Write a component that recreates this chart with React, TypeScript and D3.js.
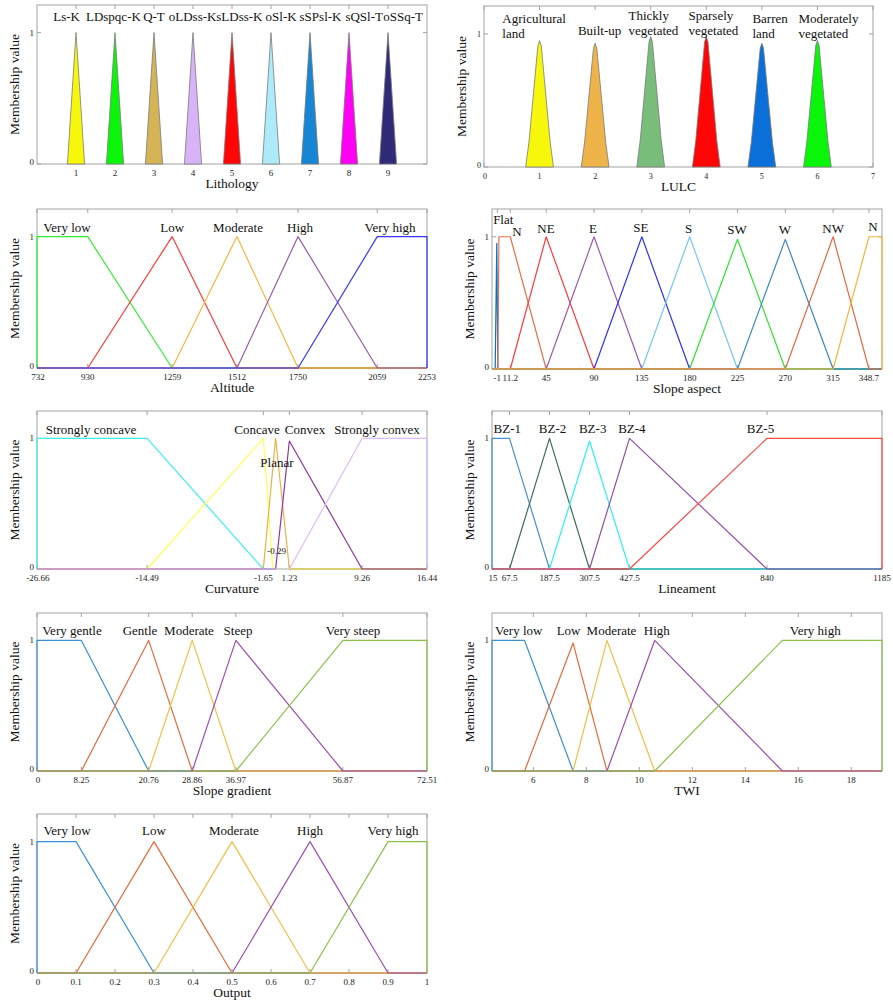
import React from 'react';
import * as d3 from 'd3';

const FONT = '"Liberation Serif", "Times New Roman", Times, serif';

// ---------- Lithology ----------
const lithoNames = ['Ls-K', 'LDspqc-K', 'Q-T', 'oLDss-K', 'sLDss-K', 'oSl-K', 'sSPsl-K', 'sQSl-T', 'oSSq-T'];
const lithoTicks = [1, 2, 3, 4, 5, 6, 7, 8, 9];
const lithoParams = [
  [0.78, 1, 1.22], [1.78, 2, 2.22], [2.78, 3, 3.22], [3.78, 4, 4.22], [4.78, 5, 5.22],
  [5.78, 6, 6.22], [6.78, 7, 7.22], [7.78, 8, 8.22], [8.78, 9, 9.22],
];
const lithoColors = ['#f7f70c', '#0af50a', '#d5b455', '#d9b3f7', '#ff0505', '#aeebfa', '#1585d4', '#ff00f5', '#302a78'];
const lithoLabelX = [0.76, 1.96, 3.0, 3.99, 5.19, 6.26, 7.27, 8.39, 9.39];

// ---------- LULC ----------
const lulcNames = [['Agricultural', 'land'], ['Built-up'], ['Thickly', 'vegetated'], ['Sparsely', 'vegetated'], ['Barren', 'land'], ['Moderately', 'vegetated']];
const lulcTicks = [0, 1, 2, 3, 4, 5, 6, 7];
const lulcCenters = [1, 2, 3, 4, 5, 6];
const lulcPeaks = [0.95, 0.93, 0.98, 0.98, 0.93, 0.95];
const lulcColors = ['#f7f70c', '#eeb44a', '#79bd7a', '#ff0505', '#0a6fd8', '#0af50a'];
const lulcLabelX = [0.33, 1.69, 2.6, 3.68, 4.83, 5.66];
const lulcLabelY = [1.12, 1.03, 1.142, 1.142, 1.12, 1.12];

// ---------- Altitude ----------
const altNames = ['Very low', 'Low', 'Moderate', 'High', 'Very high'];
const altTicks = [732, 930, 1259, 1512, 1750, 2059, 2253];
const altParams = [[732, 732, 930, 1259], [930, 1259, 1512], [1259, 1512, 1750], [1512, 1750, 2059], [1750, 2059, 2253, 2253]];
const altColors = ['#33ee33', '#ff3b3b', '#f5b940', '#9a5bb0', '#3636ff'];
const altLabelX = [849, 1259, 1516, 1758, 2109];

// ---------- Slope aspect ----------
const aspNames = ['Flat', 'N', 'NE', 'E', 'SE', 'S', 'SW', 'W', 'NW', 'N'];
const aspTicks = [-1, 11.2, 45, 90, 135, 180, 225, 270, 315, 348.7];
const aspParams = [
  [-3, -1.5, -0.5], [-0.5, 0.5, 11.2, 45], [11.2, 45, 90], [45, 90, 135], [90, 135, 180],
  [135, 180, 225], [180, 225, 270], [225, 270, 315], [270, 315, 348.7], [315, 348.7, 361, 361],
];
const aspPeaks = [0.95, 1, 1, 1, 1, 1, 0.98, 0.98, 1, 1];
const aspColors = ['#0a6fc0', '#e8704a', '#ff3b3b', '#9a5bb0', '#3030ff', '#75c8f0', '#30e030', '#3c86c9', '#e66a45', '#f7b53a'];
const aspLabelX = [4.6, 17.5, 44.8, 89, 134, 179, 224.5, 269.7, 315, 352.5];
const aspLabelY = [1.136, 1.045, 1.07, 1.065, 1.075, 1.07, 1.055, 1.06, 1.07, 1.08];

// ---------- Curvature ----------
const curvNames = ['Strongly concave', 'Concave', 'Planar', 'Convex', 'Strongly convex'];
const curvTicks = [-26.66, -14.49, -1.65, 1.23, 9.26, 16.44];
const curvParams = [[-26.66, -26.66, -14.49, -1.65], [-14.49, -1.65, -0.6], [-1.65, -0.29, 1.23], [-0.29, 1.23, 9.26], [1.23, 9.26, 16.44, 16.44]];
const curvPeaks = [1, 1, 1, 0.98, 1];
const curvColors = ['#44eeee', '#ffff55', '#efb04a', '#8b3a9b', '#dcbcff'];
const curvLabelX = [-20.69, -2.35, -0.14, 2.96, 10.91];
const curvLabelY = [1.069, 1.069, 0.817, 1.069, 1.069];

// ---------- Lineament ----------
const linNames = ['BZ-1', 'BZ-2', 'BZ-3', 'BZ-4', 'BZ-5'];
const linTicks = [15, 67.5, 187.5, 307.5, 427.5, 840, 1185];
const linParams = [[15, 15, 67.5, 187.5], [67.5, 187.5, 307.5], [187.5, 307.5, 427.5], [307.5, 427.5, 840], [427.5, 840, 1185, 1185]];
const linPeaks = [1, 1, 0.98, 1, 1];
const linColors = ['#4a8fd4', '#3e7055', '#30f0f0', '#9050a8', '#ff4848'];
const linLabelX = [61, 196.7, 317, 434.7, 820.4];

// ---------- Slope gradient ----------
const sgNames = ['Very gentle', 'Gentle', 'Moderate', 'Steep', 'Very steep'];
const sgTicks = [0, 8.25, 20.76, 28.86, 36.97, 56.87, 72.51];
const sgParams = [[0, 0, 8.25, 20.76], [8.25, 20.76, 28.86], [20.76, 28.86, 36.97], [28.86, 36.97, 56.87], [36.97, 56.87, 72.51, 72.51]];
const sgLabelX = [6.5, 19.15, 28.26, 37.37, 58.75];

// ---------- TWI ----------
const twiNames = ['Very low', 'Low', 'Moderate', 'High', 'Very high'];
const twiTicks = [6, 8, 10, 12, 14, 16, 18];
const twiParams = [[4.44, 4.44, 5.67, 7.5], [5.67, 7.5, 8.78], [7.5, 8.78, 10.58], [8.78, 10.58, 15.4], [10.58, 15.4, 19.16, 19.16]];
const twiPeaks = [1, 0.98, 1, 1, 1];
const twiLabelX = [5.45, 7.33, 8.95, 10.66, 16.64];

// ---------- Output ----------
const outNames = ['Very low', 'Low', 'Moderate', 'High', 'Very high'];
const outTicks = [0, 0.1, 0.2, 0.3, 0.4, 0.5, 0.6, 0.7, 0.8, 0.9, 1];
const outParams = [[0, 0, 0.1, 0.3], [0.1, 0.3, 0.5], [0.3, 0.5, 0.7], [0.5, 0.7, 0.9], [0.7, 0.9, 1, 1]];
const outLabelX = [0.077, 0.3, 0.505, 0.7, 0.913];

const matlabColors = ['#3d8fd6', '#e8693d', '#f5be45', '#9b50b0', '#8cc04c'];

type Pt = [number, number];

// full membership line across the universe of discourse
function mfLine(p: number[], h: number, dom: number[]): Pt[] {
  if (p.length === 3) return [[dom[0], 0], [p[0], 0], [p[1], h], [p[2], 0], [dom[1], 0]];
  return [[dom[0], 0], [p[0], 0], [p[1], h], [p[2], h], [p[3], 0], [dom[1], 0]];
}

// closed filled triangle
function mfTri(p: number[], h: number): Pt[] {
  return [[p[0], 0], [p[1], h], [p[2], 0]];
}

// LULC shapes: steep foot, then a straight flank to a slightly rounded top
function lulcShape(c: number, h: number): Pt[] {
  return [
    [c - 0.25, 0], [c - 0.19, 0.2 * h], [c - 0.03, 0.96 * h], [c, h],
    [c + 0.03, 0.96 * h], [c + 0.19, 0.2 * h], [c + 0.25, 0],
  ];
}

type Label = { lines: string[]; x: number; y: number; anchor?: string; size?: number };

type PanelProps = {
  x0: number; x1: number; y0: number; y1: number;
  domain: [number, number];
  ticks: number[];
  shapes: Pt[][];
  colors: string[];
  filled?: boolean;
  labels: Label[];
  title: string;
  tickSize?: number;
};

function Panel({ x0, x1, y0, y1, domain, ticks, shapes, colors, filled, labels, title, tickSize = 9 }: PanelProps) {
  const x = d3.scaleLinear().domain(domain).range([x0, x1]);
  const y = d3.scaleLinear().domain([0, 1.21]).range([y1, y0]);
  const line = d3.line<Pt>().x(d => x(d[0])).y(d => y(d[1]));
  const frame = '#a3a3a3';
  return (
    <g fontFamily={FONT}>
      <rect x={x0} y={y0} width={x1 - x0} height={y1 - y0} fill="#fff" stroke={frame} strokeWidth={1} />
      {ticks.map((t, i) => (
        <g key={'t' + i}>
          <line x1={x(t)} x2={x(t)} y1={y1} y2={y1 - 4} stroke={frame} />
          <line x1={x(t)} x2={x(t)} y1={y0} y2={y0 + 4} stroke={frame} />
          <text x={x(t) + (t === domain[0] ? 1 : 0)} y={y1 + 11.5} fontSize={tickSize} textAnchor="middle" fill="#222">{String(t)}</text>
        </g>
      ))}
      {[0, 1].map(v => (
        <g key={'y' + v}>
          <line x1={x0} x2={x0 + 4} y1={y(v)} y2={y(v)} stroke={frame} />
          <line x1={x1} x2={x1 - 4} y1={y(v)} y2={y(v)} stroke={frame} />
          <text x={x0 - 3} y={y(v) + (v === 0 ? 1 : 3)} fontSize={tickSize} textAnchor="end" fill="#222">{v}</text>
        </g>
      ))}
      {shapes.map((s, i) => (
        <path
          key={'s' + i}
          d={(line(s) || '') + (filled ? 'Z' : '')}
          fill={filled ? colors[i] : 'none'}
          stroke={filled ? '#7a7a7a' : colors[i]}
          strokeWidth={filled ? 0.8 : 1.2}
          strokeLinejoin="round"
        />
      ))}
      {labels.map((l, i) => (
        <text
          key={'l' + i}
          x={x(l.x)}
          y={y(l.y)}
          fontSize={l.size || 13}
          textAnchor={l.anchor || 'middle'}
          dominantBaseline="central"
          fill="#111"
        >
          {l.lines.map((s, j) => (
            <tspan key={j} x={x(l.x)} dy={j === 0 ? 0 : 15}>{s}</tspan>
          ))}
        </text>
      ))}
      <text x={(x0 + x1) / 2} y={y1 + 24} fontSize={13.5} textAnchor="middle" fill="#111">{title}</text>
      <text
        transform={`translate(${x0 - 23},${(y0 + y1) / 2}) rotate(-90)`}
        fontSize={13.5}
        textAnchor="middle"
        dominantBaseline="central"
        fill="#111"
      >
        Membership value
      </text>
    </g>
  );
}

const L0 = 37, L1 = 427, R0 = 492, R1 = 882;

export default function App() {
  const lithoDom: [number, number] = [0, 10];
  const lulcDom: [number, number] = [0, 7];
  const altDom: [number, number] = [732, 2253];
  const aspDom: [number, number] = [-6, 361];
  const curvDom: [number, number] = [-26.66, 16.44];
  const linDom: [number, number] = [15, 1185];
  const sgDom: [number, number] = [0, 72.51];
  const twiDom: [number, number] = [4.44, 19.16];
  const outDom: [number, number] = [0, 1];

  return (
    <svg
      width={893}
      height={1002}
      style={{ position: 'absolute', left: 0, top: 0, display: 'block', background: '#fff' }}
    >
      <Panel
        x0={L0} x1={L1} y0={5} y1={164} domain={lithoDom} ticks={lithoTicks}
        shapes={lithoParams.map(p => mfTri(p, 1))} colors={lithoColors} filled
        labels={lithoNames.map((n, i) => ({ lines: [n], x: lithoLabelX[i], y: 1.124 }))}
        title="Lithology"
      />
      <Panel
        x0={484} x1={873} y0={6} y1={167} domain={lulcDom} ticks={lulcTicks}
        shapes={lulcCenters.map((c, i) => lulcShape(c, lulcPeaks[i]))} colors={lulcColors} filled
        labels={lulcNames.map((n, i) => ({ lines: n, x: lulcLabelX[i], y: lulcLabelY[i], anchor: 'start' }))}
        title="LULC" tickSize={8}
      />
      <Panel
        x0={L0} x1={L1} y0={209} y1={368} domain={altDom} ticks={altTicks}
        shapes={altParams.map(p => mfLine(p, 1, altDom))} colors={altColors}
        labels={altNames.map((n, i) => ({ lines: [n], x: altLabelX[i], y: 1.07 }))}
        title="Altitude"
      />
      <Panel
        x0={R0} x1={R1} y0={209} y1={369} domain={aspDom} ticks={aspTicks}
        shapes={aspParams.map((p, i) => mfLine(p, aspPeaks[i], aspDom))} colors={aspColors}
        labels={aspNames.map((n, i) => ({ lines: [n], x: aspLabelX[i], y: aspLabelY[i] }))}
        title="Slope aspect"
      />
      <Panel
        x0={L0} x1={L1} y0={411} y1={569} domain={curvDom} ticks={curvTicks}
        shapes={curvParams.map((p, i) => mfLine(p, curvPeaks[i], curvDom))} colors={curvColors}
        labels={[
          ...curvNames.map((n, i) => ({ lines: [n], x: curvLabelX[i], y: curvLabelY[i] })),
          { lines: ['-0.29'], x: -0.17, y: 0.137, size: 9 },
        ]}
        title="Curvature"
      />
      <Panel
        x0={R0} x1={R1} y0={411} y1={569} domain={linDom} ticks={linTicks}
        shapes={linParams.map((p, i) => mfLine(p, linPeaks[i], linDom))} colors={linColors}
        labels={linNames.map((n, i) => ({ lines: [n], x: linLabelX[i], y: 1.08 }))}
        title="Lineament"
      />
      <Panel
        x0={L0} x1={L1} y0={613} y1={771} domain={sgDom} ticks={sgTicks}
        shapes={sgParams.map(p => mfLine(p, 1, sgDom))} colors={matlabColors}
        labels={sgNames.map((n, i) => ({ lines: [n], x: sgLabelX[i], y: 1.076 }))}
        title="Slope gradient"
      />
      <Panel
        x0={R0} x1={R1} y0={613} y1={771} domain={twiDom} ticks={twiTicks}
        shapes={twiParams.map((p, i) => mfLine(p, twiPeaks[i], twiDom))} colors={matlabColors}
        labels={twiNames.map((n, i) => ({ lines: [n], x: twiLabelX[i], y: 1.076 }))}
        title="TWI"
      />
      <Panel
        x0={L0} x1={L1} y0={814} y1={973} domain={outDom} ticks={outTicks}
        shapes={outParams.map(p => mfLine(p, 1, outDom))} colors={matlabColors}
        labels={outNames.map((n, i) => ({ lines: [n], x: outLabelX[i], y: 1.09 }))}
        title="Output"
      />
    </svg>
  );
}
